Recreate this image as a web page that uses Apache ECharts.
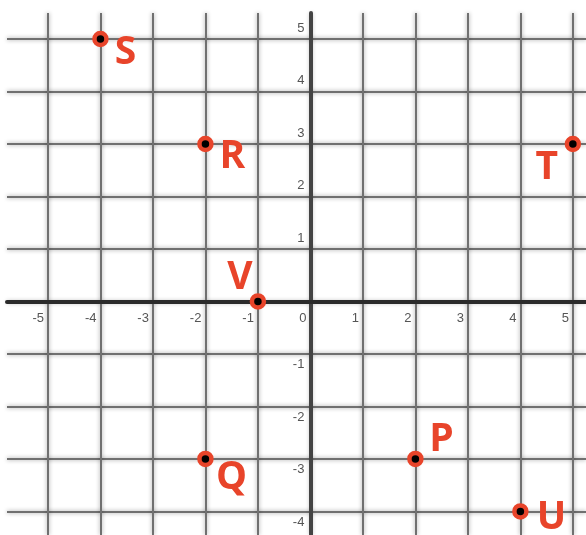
<!DOCTYPE html>
<html>
<head>
<meta charset="utf-8">
<script src="https://cdn.jsdelivr.net/npm/echarts@6/dist/echarts.min.js"></script>
<style>
  html, body { margin: 0; padding: 0; background: #fff; }
  #chart { width: 586px; height: 535px; }
</style>
</head>
<body>
<div id="chart"></div>
<script>
// 坐标平面上的点
const pointNames = ['S', 'R', 'T', 'V', 'P', 'Q', 'U'];
const pointX = [-4, -2, 5, -1, 2, -2, 4];
const pointY = [5, 3, 3, 0, -3, -3, -4];
const xTicks = [-5, -4, -3, -2, -1, 0, 1, 2, 3, 4, 5];
const yTicks = [-4, -3, -2, -1, 0, 1, 2, 3, 4, 5];

// label placement around each point (style only)
const labelOffset = {
  S: [25, 14], R: [27, 13], T: [-26, 24], V: [-18, -24],
  P: [26, -19], Q: [26, 19], U: [31, 7]
};

const W = 586, H = 535;
const grid = { left: 7, right: 0, top: 13, bottom: 0 };
const xMin = -5.78, xMax = 5.25, yMin = -4.45, yMax = 5.495;
// axes sit on the zero lines, not on the grid edges
const zeroX = grid.left + (0 - xMin) / (xMax - xMin) * (W - grid.left - grid.right);
const zeroY = grid.top + (yMax - 0) / (yMax - yMin) * (H - grid.top - grid.bottom);

const gridLine = {
  color: '#707070',
  width: 2,
  shadowColor: 'rgba(0,0,0,0.4)',
  shadowBlur: 4
};

const chart = echarts.init(document.getElementById('chart'));

const data = pointNames.map((n, i) => ({
  name: n,
  value: [pointX[i], pointY[i]],
  label: { offset: labelOffset[n] }
}));

chart.setOption({
  animation: false,
  backgroundColor: '#fff',
  grid: Object.assign({ outerBoundsMode: 'none', containLabel: false }, grid),
  xAxis: {
    type: 'value',
    min: xMin,
    max: xMax,
    position: 'bottom',
    offset: -(H - grid.bottom - zeroY),
    axisLine: { onZero: false, lineStyle: { color: '#2b2b2b', width: 4 } },
    axisTick: { show: false, customValues: xTicks },
    axisLabel: {
      customValues: xTicks,
      align: 'right',
      padding: [0, 4, 0, 0],
      margin: 10,
      color: '#555',
      fontSize: 13,
      fontFamily: 'Liberation Sans'
    },
    splitLine: { show: true, lineStyle: gridLine }
  },
  yAxis: {
    type: 'value',
    min: yMin,
    max: yMax,
    position: 'left',
    offset: -(zeroX - grid.left),
    axisLine: { onZero: false, lineStyle: { color: '#444', width: 4 } },
    axisTick: { show: false, customValues: yTicks },
    axisLabel: {
      customValues: yTicks,
      margin: 6,
      color: '#555',
      fontSize: 13,
      lineHeight: 22,
      fontFamily: 'Liberation Sans',
      formatter: v => v > 0 ? v + '\n ' : (v < 0 ? ' \n' + v : '')
    },
    splitLine: { show: true, lineStyle: gridLine }
  },
  series: [{
    type: 'scatter',
    data: data,
    symbol: 'circle',
    symbolSize: 12,
    itemStyle: { color: '#000', borderColor: '#e8442a', borderWidth: 4.5, opacity: 1 },
    label: {
      show: true,
      position: 'inside',
      formatter: p => p.name,
      color: '#e8442a',
      textBorderWidth: 0,
      fontSize: 39,
      fontWeight: 'bold',
      fontFamily: 'Open Sans'
    },
    clip: false
  }]
});
</script>
</body>
</html>
